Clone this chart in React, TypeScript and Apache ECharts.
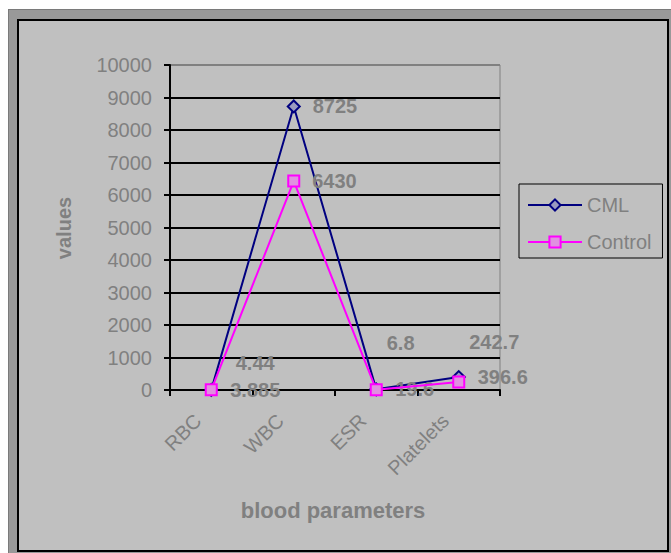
import React, { useEffect, useRef } from "react";
import * as echarts from "echarts";

const categories = ["RBC", "WBC", "ESR", "Platelets"];
const cmlValues = [3.885, 8725, 19.6, 396.6];
const controlValues = [4.44, 6430, 6.8, 242.7];
const yTicks = { min: 0, max: 10000, interval: 1000 };
const seriesNames = ["CML", "Control"];

// manual label shifts of the Control data labels (as placed in the source chart)
const controlLabelShift: [number, number][] = [
  [6, -27],
  [0, 0],
  [-8, -47],
  [-8, -40],
];

const FONT = "Arial, 'Liberation Sans', sans-serif";
const GRAY = "#808080";

export default function App() {
  const ref = useRef<HTMLDivElement>(null);
  useEffect(() => {
    if (!ref.current) return;
    const chart = echarts.init(ref.current, null, { renderer: "svg" });
    const labelBase = {
      show: true,
      position: "right",
      distance: 12,
      color: GRAY,
      fontSize: 20,
      fontWeight: "bold",
      fontFamily: FONT,
    };
    chart.setOption({
      animation: false,
      backgroundColor: "transparent",
      textStyle: { fontFamily: FONT },
      grid: {
        left: 170,
        top: 65,
        width: 330,
        height: 325,
        show: true,
        borderColor: GRAY,
        borderWidth: 1,
        backgroundColor: "transparent",
      },
      legend: {
        data: seriesNames,
        orient: "vertical",
        left: 519,
        top: 184,
        padding: [11, 11, 6, 8],
        itemGap: 17,
        itemWidth: 54,
        itemHeight: 14,
        borderColor: "#000",
        borderWidth: 1,
        backgroundColor: "#c0c0c0",
        textStyle: { fontSize: 20, color: GRAY, fontFamily: FONT, lineHeight: 20 },
      },
      xAxis: {
        type: "category",
        data: categories,
        boundaryGap: true,
        axisLine: { lineStyle: { color: "#000", width: 2 } },
        axisTick: { show: true, length: 6, lineStyle: { color: "#000", width: 2 } },
        axisLabel: {
          rotate: 45,
          margin: 14,
          padding: [0, 19, 0, 0],
          fontSize: 20,
          color: GRAY,
          fontFamily: FONT,
        },
        splitLine: { show: false },
      },
      yAxis: {
        type: "value",
        min: yTicks.min,
        max: yTicks.max,
        interval: yTicks.interval,
        axisLine: { show: true, lineStyle: { color: "#000", width: 2 } },
        axisTick: { show: true, length: 6, lineStyle: { color: "#000", width: 2 } },
        axisLabel: {
          margin: 18,
          fontSize: 20,
          color: GRAY,
          fontFamily: FONT,
          formatter: (v: number) => String(v),
        },
        splitLine: {
          show: true,
          lineStyle: {
            color: ["#000", "#000", "#000", "#000", "#000", "#000", "#000", "#000", "#000", "#000", GRAY],
            width: 2,
          },
        },
      },
      series: [
        {
          name: seriesNames[0],
          type: "line",
          data: cmlValues,
          symbol: "diamond",
          symbolSize: 12,
          lineStyle: { color: "#000080", width: 2 },
          itemStyle: { color: "#9a9ac0", borderColor: "#000080", borderWidth: 2 },
          label: labelBase,
          z: 3,
        },
        {
          name: seriesNames[1],
          type: "line",
          data: controlValues.map((v, i) => ({
            value: v,
            label: { offset: controlLabelShift[i] },
          })),
          symbol: "rect",
          symbolSize: 11,
          lineStyle: { color: "#ff00ff", width: 2 },
          itemStyle: { color: "#e090e0", borderColor: "#ff00ff", borderWidth: 2 },
          label: labelBase,
          z: 4,
        },
      ],
      graphic: [
        {
          type: "text",
          x: 64,
          y: 228,
          rotation: Math.PI / 2,
          style: {
            text: "values",
            fill: GRAY,
            font: `bold 20px ${FONT}`,
            align: "center",
            verticalAlign: "middle",
          },
        },
        {
          type: "text",
          x: 333,
          y: 510,
          style: {
            text: "blood parameters",
            fill: GRAY,
            font: `bold 22px ${FONT}`,
            align: "center",
            verticalAlign: "middle",
          },
        },
      ],
    });
    return () => chart.dispose();
  }, []);

  return (
    <div style={{ position: "absolute", left: 0, top: 0, width: 671, height: 553, overflow: "hidden", background: "#fff" }}>
      <div
        style={{
          position: "absolute",
          left: 8,
          top: 9,
          width: 680,
          height: 560,
          background: "#999999",
          border: "1px solid #7a7a7a",
          boxSizing: "border-box",
        }}
      />
      <div
        style={{
          position: "absolute",
          left: 17,
          top: 19,
          width: 652,
          height: 533,
          background: "#c0c0c0",
          border: "2px solid #000",
          boxSizing: "border-box",
        }}
      />
      <div ref={ref} style={{ position: "absolute", left: 0, top: 0, width: 671, height: 553 }} />
    </div>
  );
}
